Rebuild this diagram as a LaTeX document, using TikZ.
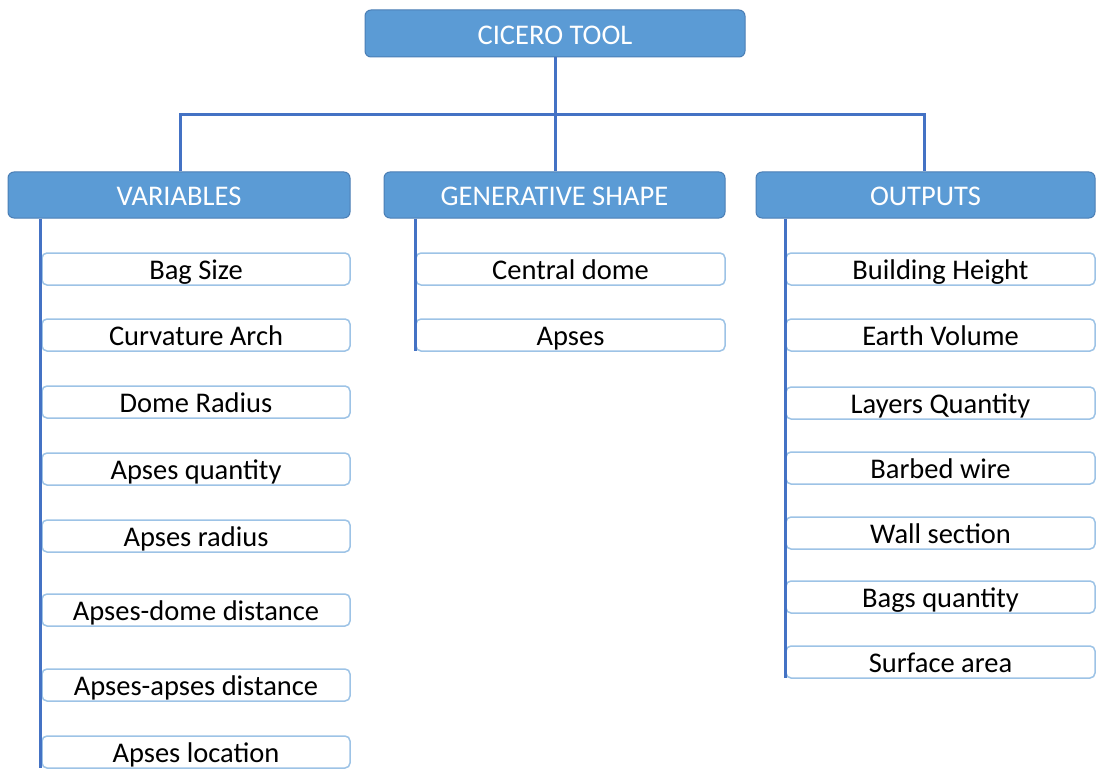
\documentclass[tikz,border=0pt]{standalone}
\usepackage{fontspec}
\setmainfont{Carlito}
\definecolor{hdrfill}{HTML}{5B9BD5}
\definecolor{hdrdraw}{HTML}{4A7EB5}
\definecolor{linkblue}{HTML}{4472C4}
\definecolor{itemdraw}{HTML}{9DC3E6}
\begin{document}
\begin{tikzpicture}[x=1pt,y=-1pt,
  hdr/.style={draw=hdrdraw,line width=1pt,fill=hdrfill,rounded corners=6pt,text=white,
    font=\fontsize{28.5}{32}\selectfont,inner sep=0pt,text height=23pt,text depth=1pt},
  item/.style={draw=itemdraw,line width=1.5pt,fill=white,rounded corners=5pt,text=black,
    font=\fontsize{28.5}{32}\selectfont,inner sep=0pt,text height=22pt,text depth=2pt},
  link/.style={draw=linkblue,line width=3pt}]
\useasboundingbox (0,0) rectangle (1097,770);
% headers
\node[hdr,minimum width=380pt,minimum height=47pt] (top) at (555,33.5) {CICERO TOOL};
\node[hdr,minimum width=342pt,minimum height=46pt] (var) at (179,195) {VARIABLES};
\node[hdr,minimum width=341pt,minimum height=46pt] (gen) at (554.5,195) {GENERATIVE SHAPE};
\node[hdr,minimum width=339pt,minimum height=46pt] (out) at (925.5,195) {OUTPUTS};
% tree connectors
\coordinate (bus) at (555,115);
\draw[link] (top.south) -- (bus);
\draw[link] (var.north -| 180,0) |- (bus) -| (out.north -| 924,0);
\draw[link] (bus) -- (gen.north -| 555,0);
% variables
\begin{scope}[every node/.style={item,minimum width=308pt,minimum height=32pt}]
\node (v1) at (196,269) {Bag Size};
\node (v2) at (196,335) {Curvature Arch};
\node (v3) at (196,402) {Dome Radius};
\node (v4) at (196,469) {Apses quantity};
\node (v5) at (196,536) {Apses radius};
\node (v6) at (196,610) {Apses-dome distance};
\node (v7) at (196,685) {Apses-apses distance};
\node (v8) at (196,752) {Apses location};
\end{scope}
\begin{scope}[every node/.style={item,minimum width=309pt,minimum height=32pt}]
\node (g1) at (570.5,269) {Central dome};
\node (g2) at (570.5,335) {Apses};
\end{scope}
\begin{scope}[every node/.style={item,minimum width=309pt,minimum height=32pt}]
\node (o1) at (940.5,269) {Building Height};
\node (o2) at (940.5,335) {Earth Volume};
\node (o3) at (940.5,403) {Layers Quantity};
\node (o4) at (940.5,468) {Barbed wire};
\node (o5) at (940.5,533) {Wall section};
\node (o6) at (940.5,597) {Bags quantity};
\node (o7) at (940.5,662) {Surface area};
\end{scope}
% side rails
\coordinate (vend) at (40,768);
\coordinate (gend) at (415,351);
\coordinate (oend) at (785,678);
\draw[link] (var.south -| vend) -- (vend);
\draw[link] (gen.south -| gend) -- (gend);
\draw[link] (out.south -| oend) -- (oend);
\end{tikzpicture}
\end{document}
